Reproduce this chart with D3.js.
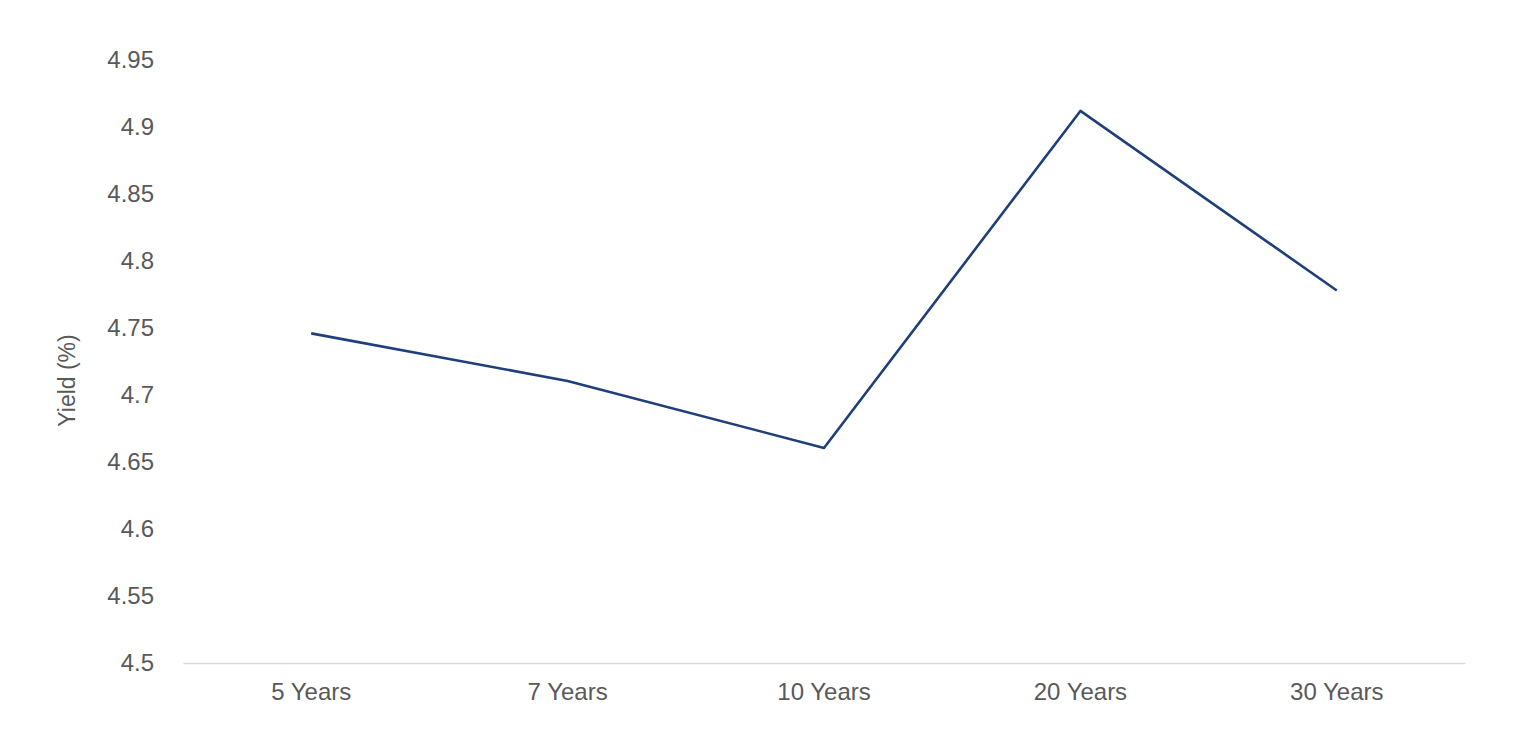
<!DOCTYPE html>
<html>
<head>
<meta charset="utf-8">
<script src="https://cdn.jsdelivr.net/npm/d3@7"></script>
<style>
  body { margin: 0; background: #fff; }
  text { font-family: "Liberation Sans", Arial, sans-serif; }
</style>
</head>
<body>
<svg id="chart"></svg>
<script>
const tenors = ['5 Years', '7 Years', '10 Years', '20 Years', '30 Years']
const yields = [4.746, 4.7105, 4.6605, 4.912, 4.778]
const yTicks = [4.5, 4.55, 4.6, 4.65, 4.7, 4.75, 4.8, 4.85, 4.9, 4.95]

const width = 1536
const height = 732
const margin = { top: 60, right: 71, bottom: 69, left: 183 }

const svg = d3.select('#chart')
  .attr('width', width)
  .attr('height', height)

const x = d3.scaleBand()
  .domain(tenors)
  .range([margin.left, width - margin.right])

const y = d3.scaleLinear()
  .domain([4.5, 4.95])
  .range([height - margin.bottom, margin.top])

// x axis line
svg.append('g')
  .attr('transform', `translate(0,${height - margin.bottom})`)
  .call(d3.axisBottom(x).tickSize(0).tickPadding(20))
  .call(g => g.select('.domain').attr('stroke', '#d9d9d9').attr('stroke-width', 1.3))
  .call(g => g.selectAll('text')
    .attr('font-size', 24)
    .attr('fill', '#595959')
    .attr('font-family', '"Liberation Sans", Arial, sans-serif'))

// y axis labels, no line
svg.append('g')
  .attr('transform', `translate(${margin.left - 26},0)`)
  .call(d3.axisLeft(y).tickValues(yTicks).tickSize(0).tickFormat(d => d3.format('')(+d.toFixed(2))))
  .call(g => g.select('.domain').remove())
  .call(g => g.selectAll('text')
    .attr('font-size', 24)
    .attr('fill', '#595959')
    .attr('font-family', '"Liberation Sans", Arial, sans-serif'))

svg.append('text')
  .attr('transform', `translate(75,${(margin.top + height - margin.bottom) / 2 + 19}) rotate(-90)`)
  .attr('text-anchor', 'middle')
  .attr('font-size', 23)
  .attr('fill', '#595959')
  .text('Yield (%)')

const line = d3.line()
  .x((d, i) => x(tenors[i]) + x.bandwidth() / 2)
  .y(d => y(d))

svg.append('path')
  .datum(yields)
  .attr('fill', 'none')
  .attr('stroke', '#1f3f7a')
  .attr('stroke-width', 2.6)
  .attr('stroke-linejoin', 'round')
  .attr('d', line)
</script>
</body>
</html>
